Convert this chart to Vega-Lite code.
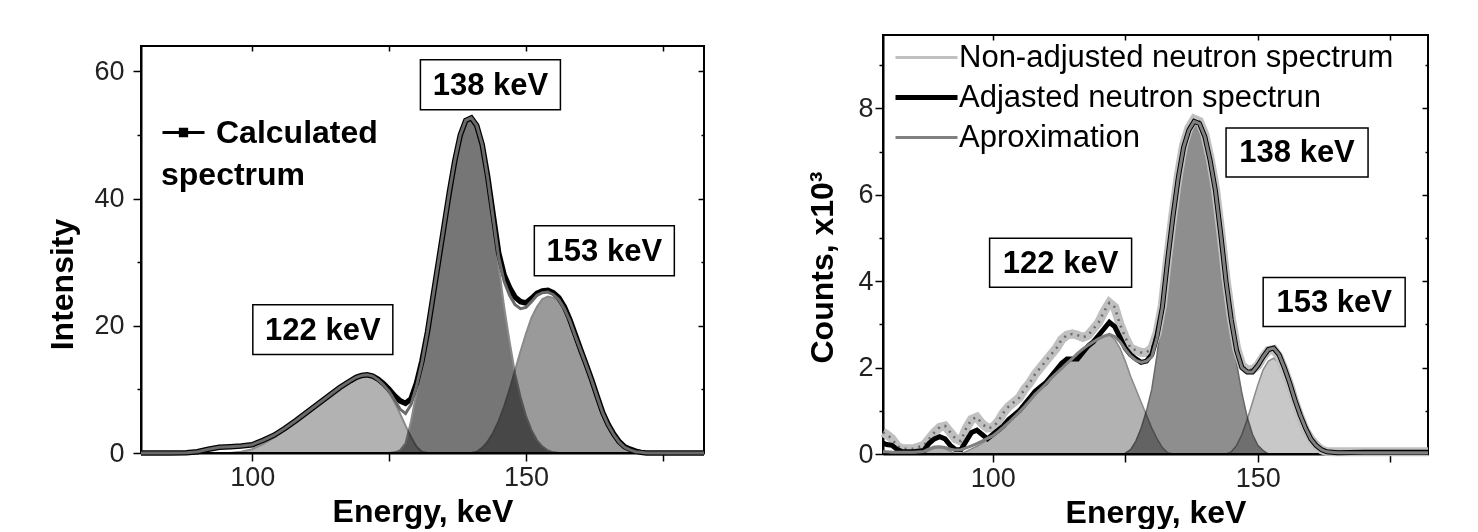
{
  "$schema": "https://vega.github.io/schema/vega-lite/v6.json",
  "background": "white",
  "padding": {"left": 45, "top": 33, "right": 5, "bottom": 0},
  "spacing": 89,
  "resolve": {"scale": {"color": "independent"}, "legend": {"color": "independent"}},
  "config": {
    "view": {"stroke": "black", "strokeWidth": 2},
    "axis": {
      "domainColor": "black", "domainWidth": 2, "tickColor": "black", "tickWidth": 1.5, "grid": false,
      "labelFont": "Liberation Sans", "labelFontSize": 27, "labelColor": "#222",
      "titleFont": "Liberation Sans", "titleFontSize": 32, "titleFontWeight": "bold", "titleColor": "black"
    },
    "legend": {"padding": 0}
  },
  "datasets": {
    "left": [
      {"E":79.7,"calc":0,"fit":0},{"E":85,"calc":0,"fit":0},{"E":88,"calc":0.05,"fit":0.05},{"E":90,"calc":0.2,"fit":0.2},
      {"E":92,"calc":0.6,"fit":0.6},{"E":94,"calc":0.9,"fit":0.9},{"E":96,"calc":1.0,"fit":1.0,"c122":0},
      {"E":98,"calc":1.1,"fit":1.1,"c122":0.2},{"E":100,"calc":1.3,"fit":1.3,"c122":0.6},{"E":102,"calc":2.0,"fit":2.0,"c122":1.4},
      {"E":104,"calc":2.8,"fit":2.8,"c122":2.4},{"E":106,"calc":3.9,"fit":3.9,"c122":3.6},{"E":108,"calc":5.1,"fit":5.1,"c122":4.9},
      {"E":110,"calc":6.4,"fit":6.4,"c122":6.2},{"E":112,"calc":7.7,"fit":7.7,"c122":7.6},{"E":114,"calc":9.0,"fit":9.0,"c122":8.9},
      {"E":116,"calc":10.3,"fit":10.3,"c122":10.2},{"E":118,"calc":11.4,"fit":11.4,"c122":11.3},{"E":119,"calc":11.9,"fit":11.9,"c122":11.8},
      {"E":120,"calc":12.2,"fit":12.2,"c122":12.1},{"E":121,"calc":12.3,"fit":12.3,"c122":12.2},{"E":122,"calc":12.1,"fit":12.1,"c122":12.0},
      {"E":123,"calc":11.6,"fit":11.5,"c122":11.4},{"E":124,"calc":10.9,"fit":10.7,"c122":10.6},
      {"E":125,"calc":10.0,"fit":9.7,"c122":9.5,"c138":0},{"E":126,"calc":9.0,"fit":8.3,"c122":8.0,"c138":0.1},
      {"E":127,"calc":8.2,"fit":6.9,"c122":6.2,"c138":0.4},{"E":128,"calc":7.8,"fit":6.2,"c122":4.3,"c138":1.5},
      {"E":129,"calc":8.5,"fit":7.6,"c122":2.5,"c138":5.0},{"E":130,"calc":11.0,"fit":10.5,"c122":1.0,"c138":9.5},
      {"E":131,"calc":14.5,"fit":14.2,"c122":0.2,"c138":14.0},{"E":132,"calc":19.0,"fit":19.0,"c122":0,"c138":19.0},
      {"E":133,"calc":24.5,"fit":24.5,"c138":24.5},{"E":134,"calc":30.0,"fit":30.0,"c138":30.0},{"E":135,"calc":35.5,"fit":35.5,"c138":35.5},
      {"E":136,"calc":41.0,"fit":41.0,"c138":41.0},{"E":137,"calc":46.0,"fit":46.0,"c138":46.0},{"E":138,"calc":50.0,"fit":50.0,"c138":50.0},
      {"E":139,"calc":52.3,"fit":52.3,"c138":52.3},{"E":140,"calc":52.7,"fit":52.7,"c138":52.7,"c153":0},
      {"E":141,"calc":51.5,"fit":51.5,"c138":51.3,"c153":0.2},{"E":142,"calc":48.5,"fit":48.5,"c138":48.0,"c153":0.8},
      {"E":143,"calc":43.5,"fit":43.3,"c138":42.8,"c153":1.8},{"E":144,"calc":37.5,"fit":37.0,"c138":36.0,"c153":3.2},
      {"E":145,"calc":31.5,"fit":30.8,"c138":29.5,"c153":5.0},{"E":146,"calc":28.0,"fit":27.0,"c138":23.0,"c153":7.3},
      {"E":147,"calc":26.0,"fit":24.8,"c138":17.5,"c153":10.0},{"E":148,"calc":24.5,"fit":23.3,"c138":12.5,"c153":13.0},
      {"E":149,"calc":23.8,"fit":22.7,"c138":8.8,"c153":16.0},{"E":150,"calc":23.6,"fit":22.9,"c138":5.8,"c153":18.8},
      {"E":151,"calc":24.3,"fit":23.8,"c138":3.6,"c153":21.3},{"E":152,"calc":25.1,"fit":24.8,"c138":2.0,"c153":23.0},
      {"E":153,"calc":25.5,"fit":25.2,"c138":1.0,"c153":24.2},{"E":154,"calc":25.6,"fit":25.3,"c138":0.4,"c153":24.6},
      {"E":155,"calc":25.2,"fit":24.9,"c138":0.1,"c153":24.4},{"E":156,"calc":24.4,"fit":24.1,"c138":0,"c153":23.8},
      {"E":157,"calc":23.0,"fit":22.7,"c153":22.5},{"E":158,"calc":21.0,"fit":20.8,"c153":20.6},{"E":159,"calc":18.6,"fit":18.4,"c153":18.3},
      {"E":160,"calc":16.2,"fit":16.1,"c153":16.0},{"E":161,"calc":13.9,"fit":13.8,"c153":13.7},{"E":162,"calc":11.5,"fit":11.4,"c153":11.3},
      {"E":163,"calc":8.9,"fit":8.8,"c153":8.7},{"E":164,"calc":6.4,"fit":6.3,"c153":6.2},{"E":165,"calc":4.5,"fit":4.4,"c153":4.3},
      {"E":166,"calc":3.0,"fit":2.9,"c153":2.8},{"E":167,"calc":1.8,"fit":1.7,"c153":1.6},{"E":168,"calc":1.0,"fit":0.9,"c153":0.8},
      {"E":169,"calc":0.6,"fit":0.5,"c153":0.3},{"E":170,"calc":0.3,"fit":0.2,"c153":0},{"E":171,"calc":0.1,"fit":0.1},
      {"E":172,"calc":0,"fit":0},{"E":182.5,"calc":0,"fit":0}
    ],
    "leftLabels": [
      {"label":"138 keV","E":143.5,"I":57.9},
      {"label":"153 keV","E":164.3,"I":31.8},
      {"label":"122 keV","E":112.9,"I":19.4}
    ],
    "right": [
      {"E":79.3,"nonadj":0.5,"adj":0.25,"approx":0.05},{"E":80,"nonadj":0.45,"adj":0.22,"approx":0.05},
      {"E":81,"nonadj":0.35,"adj":0.2,"approx":0.04},{"E":82,"nonadj":0.18,"adj":0.1,"approx":0.04},
      {"E":83,"nonadj":0.12,"adj":0.05,"approx":0.04},{"E":85,"nonadj":0.12,"adj":0.05,"approx":0.04},
      {"E":87,"nonadj":0.2,"adj":0.08,"approx":0.06,"c90":0},{"E":88,"nonadj":0.35,"adj":0.25,"approx":0.12,"c90":0.08},
      {"E":89,"nonadj":0.5,"adj":0.35,"approx":0.16,"c90":0.13},{"E":90,"nonadj":0.62,"adj":0.4,"approx":0.17,"c90":0.15},
      {"E":91,"nonadj":0.65,"adj":0.35,"approx":0.15,"c90":0.12},{"E":92,"nonadj":0.5,"adj":0.2,"approx":0.11,"c90":0.06},
      {"E":93,"nonadj":0.35,"adj":0.1,"approx":0.09,"c90":0},{"E":94,"nonadj":0.3,"adj":0.1,"approx":0.1,"c122":0},
      {"E":95,"nonadj":0.6,"adj":0.3,"approx":0.14,"c122":0.06},{"E":96,"nonadj":0.8,"adj":0.5,"approx":0.19,"c122":0.12},
      {"E":97,"nonadj":0.85,"adj":0.55,"approx":0.24,"c122":0.18},{"E":98,"nonadj":0.7,"adj":0.45,"approx":0.3,"c122":0.25},
      {"E":99,"nonadj":0.6,"adj":0.35,"approx":0.36,"c122":0.32},{"E":100,"nonadj":0.62,"adj":0.45,"approx":0.42,"c122":0.4},
      {"E":101,"nonadj":0.75,"adj":0.55,"approx":0.52,"c122":0.5},{"E":102,"nonadj":0.95,"adj":0.65,"approx":0.62,"c122":0.6},
      {"E":103,"nonadj":1.1,"adj":0.8,"approx":0.73,"c122":0.72},{"E":104,"nonadj":1.2,"adj":0.9,"approx":0.85,"c122":0.84},
      {"E":105,"nonadj":1.3,"adj":1.0,"approx":0.97,"c122":0.96},{"E":106,"nonadj":1.5,"adj":1.15,"approx":1.1,"c122":1.09},
      {"E":107,"nonadj":1.65,"adj":1.3,"approx":1.24,"c122":1.23},{"E":108,"nonadj":1.85,"adj":1.45,"approx":1.38,"c122":1.37},
      {"E":109,"nonadj":2.0,"adj":1.55,"approx":1.5,"c122":1.49},{"E":110,"nonadj":2.15,"adj":1.65,"approx":1.62,"c122":1.61},
      {"E":111,"nonadj":2.3,"adj":1.8,"approx":1.75,"c122":1.74},{"E":112,"nonadj":2.45,"adj":1.95,"approx":1.87,"c122":1.86},
      {"E":113,"nonadj":2.65,"adj":2.1,"approx":1.98,"c122":1.97},{"E":114,"nonadj":2.75,"adj":2.2,"approx":2.1,"c122":2.09},
      {"E":115,"nonadj":2.78,"adj":2.2,"approx":2.21,"c122":2.2},{"E":116,"nonadj":2.75,"adj":2.2,"approx":2.33,"c122":2.32},
      {"E":117,"nonadj":2.7,"adj":2.35,"approx":2.43,"c122":2.42},{"E":118,"nonadj":2.75,"adj":2.5,"approx":2.52,"c122":2.51},
      {"E":119,"nonadj":2.9,"adj":2.6,"approx":2.6,"c122":2.59},{"E":120,"nonadj":3.05,"adj":2.75,"approx":2.67,"c122":2.66},
      {"E":121,"nonadj":3.3,"adj":2.9,"approx":2.73,"c122":2.72},{"E":122,"nonadj":3.5,"adj":3.05,"approx":2.77,"c122":2.75},
      {"E":123,"nonadj":3.4,"adj":2.95,"approx":2.72,"c122":2.65},{"E":124,"nonadj":3.0,"adj":2.7,"approx":2.6,"c122":2.45},
      {"E":125,"nonadj":2.7,"adj":2.45,"approx":2.42,"c122":2.15,"c138":0.02},{"E":126,"nonadj":2.45,"adj":2.3,"approx":2.27,"c122":1.8,"c138":0.1},
      {"E":127,"nonadj":2.4,"adj":2.2,"approx":2.17,"c122":1.5,"c138":0.3},{"E":128,"nonadj":2.35,"adj":2.12,"approx":2.12,"c122":1.2,"c138":0.6},
      {"E":129,"nonadj":2.35,"adj":2.15,"approx":2.15,"c122":0.9,"c138":1.0},{"E":130,"nonadj":2.45,"adj":2.3,"approx":2.25,"c122":0.6,"c138":1.5},
      {"E":131,"nonadj":2.8,"adj":2.75,"approx":2.7,"c122":0.35,"c138":2.3},{"E":132,"nonadj":3.45,"adj":3.4,"approx":3.4,"c122":0.15,"c138":3.3},
      {"E":133,"nonadj":4.55,"adj":4.5,"approx":4.5,"c122":0.03,"c138":4.45},{"E":134,"nonadj":5.55,"adj":5.5,"approx":5.5,"c122":0,"c138":5.5},
      {"E":135,"nonadj":6.45,"adj":6.4,"approx":6.4,"c138":6.4},{"E":136,"nonadj":7.15,"adj":7.1,"approx":7.1,"c138":7.1},
      {"E":137,"nonadj":7.55,"adj":7.5,"approx":7.5,"c138":7.5},{"E":138,"nonadj":7.75,"adj":7.7,"approx":7.7,"c138":7.7},
      {"E":139,"nonadj":7.7,"adj":7.65,"approx":7.65,"c138":7.65},{"E":140,"nonadj":7.4,"adj":7.35,"approx":7.35,"c138":7.35},
      {"E":141,"nonadj":6.85,"adj":6.8,"approx":6.8,"c138":6.8},{"E":142,"nonadj":6.15,"adj":6.1,"approx":6.1,"c138":6.1},
      {"E":143,"nonadj":5.15,"adj":5.1,"approx":5.1,"c138":5.1},{"E":144,"nonadj":4.05,"adj":4.0,"approx":4.0,"c138":4.0,"c153":0},
      {"E":145,"nonadj":3.15,"adj":3.1,"approx":3.1,"c138":3.0,"c153":0.05},{"E":146,"nonadj":2.45,"adj":2.4,"approx":2.4,"c138":2.1,"c153":0.2},
      {"E":147,"nonadj":2.05,"adj":2.0,"approx":2.0,"c138":1.4,"c153":0.45},{"E":148,"nonadj":1.95,"adj":1.9,"approx":1.9,"c138":0.85,"c153":0.8},
      {"E":149,"nonadj":1.95,"adj":1.9,"approx":1.9,"c138":0.45,"c153":1.2},{"E":150,"nonadj":2.05,"adj":2.05,"approx":2.05,"c138":0.2,"c153":1.6},
      {"E":151,"nonadj":2.25,"adj":2.25,"approx":2.25,"c138":0.08,"c153":1.95},{"E":152,"nonadj":2.4,"adj":2.42,"approx":2.42,"c138":0,"c153":2.15},
      {"E":153,"nonadj":2.42,"adj":2.45,"approx":2.45,"c153":2.22},{"E":154,"nonadj":2.25,"adj":2.3,"approx":2.3,"c153":2.1},
      {"E":155,"nonadj":1.95,"adj":2.0,"approx":2.0,"c153":1.85},{"E":156,"nonadj":1.6,"adj":1.65,"approx":1.65,"c153":1.5},
      {"E":157,"nonadj":1.2,"adj":1.25,"approx":1.25,"c153":1.15},{"E":158,"nonadj":0.85,"adj":0.9,"approx":0.9,"c153":0.8},
      {"E":159,"nonadj":0.55,"adj":0.6,"approx":0.6,"c153":0.5},{"E":160,"nonadj":0.35,"adj":0.35,"approx":0.35,"c153":0.3},
      {"E":161,"nonadj":0.2,"adj":0.2,"approx":0.2,"c153":0.15},{"E":162,"nonadj":0.1,"adj":0.1,"approx":0.1,"c153":0.06},
      {"E":163,"nonadj":0.06,"adj":0.05,"approx":0.05,"c153":0},{"E":165,"nonadj":0.05,"adj":0.03,"approx":0.03},
      {"E":170,"nonadj":0.05,"adj":0.04,"approx":0.03},{"E":175,"nonadj":0.05,"adj":0.04,"approx":0.03},
      {"E":182.1,"nonadj":0.05,"adj":0.04,"approx":0.03}
    ],
    "rightLabels": [
      {"label":"138 keV","E":157.4,"C":6.98},
      {"label":"122 keV","E":112.8,"C":4.43},
      {"label":"153 keV","E":164.4,"C":3.52}
    ]
  },
  "hconcat": [
    {
      "spacing": 8,
      "vconcat": [
        {
          "width": 563,
          "height": 1,
          "view": {"stroke": null},
          "data": {"values": []},
          "mark": {"type": "point"},
          "encoding": {}
        },
        {
          "width": 563,
          "height": 407,
          "data": {"name": "left"},
          "resolve": {"axis": {"x": "independent", "y": "independent"}},
          "layer": [
            {
              "mark": {"type": "area", "color": "#b2b2b2", "stroke": "#8a8a8a", "strokeWidth": 2, "blend": "multiply"},
              "encoding": {
                "x": {"field": "E", "type": "quantitative", "scale": {"domain": [79.7, 182.5], "nice": false, "zero": false},
                  "axis": {"orient": "bottom", "values": [100, 125, 150, 175], "labelExpr": "datum.value % 50 === 0 ? datum.label : ''",
                    "title": "Energy, keV", "tickSize": 8, "labelPadding": 3, "titlePadding": 6}},
                "y": {"field": "c122", "type": "quantitative", "scale": {"domain": [0, 64], "nice": false},
                  "axis": {"orient": "left", "values": [0, 10, 20, 30, 40, 50, 60], "labelExpr": "datum.value % 20 === 0 ? datum.label : ''",
                    "tickSize": {"condition": {"test": "datum.value % 20 === 0", "value": 8}, "value": 4},
                    "labelPadding": 9, "title": "Intensity", "titlePadding": 14, "titleY": 238}}
              }
            },
            {
              "mark": {"type": "area", "color": "#767676", "stroke": "#8a8a8a", "strokeWidth": 2, "blend": "multiply"},
              "encoding": {
                "x": {"field": "E", "type": "quantitative", "axis": null},
                "y": {"field": "c138", "type": "quantitative", "axis": null}
              }
            },
            {
              "mark": {"type": "area", "color": "#9a9a9a", "stroke": "#8a8a8a", "strokeWidth": 2, "blend": "multiply"},
              "encoding": {
                "x": {"field": "E", "type": "quantitative", "axis": null},
                "y": {"field": "c153", "type": "quantitative", "axis": null}
              }
            },
            {
              "mark": {"type": "line", "strokeWidth": 5.5},
              "encoding": {
                "x": {"field": "E", "type": "quantitative", "axis": null},
                "y": {"field": "calc", "type": "quantitative", "axis": null},
                "color": {"datum": "Calculated", "scale": {"domain": ["Calculated"], "range": ["black"]},
                  "legend": {"orient": "none", "legendX": 20, "legendY": 75, "title": "spectrum", "titleOrient": "bottom",
                    "titleAnchor": "start", "titleFont": "Liberation Sans", "titleFontSize": 32, "titleFontWeight": "bold",
                    "titleColor": "black", "titlePadding": 11,
                    "labelFont": "Liberation Sans", "labelFontSize": 32, "labelFontWeight": "bold", "labelColor": "black",
                    "labelOffset": 10, "labelLimit": 400,
                    "symbolType": "M-1,0H1M-0.15,-0.15H0.15V0.15H-0.15Z", "symbolSize": 1764, "symbolStrokeWidth": 3,
                    "symbolStrokeColor": "black", "symbolFillColor": "black"}}
              }
            },
            {
              "mark": {"type": "line", "color": "#6a6a6a", "strokeWidth": 3},
              "encoding": {
                "x": {"field": "E", "type": "quantitative",
                  "axis": {"orient": "top", "values": [100, 125, 150, 175], "labels": false, "title": null, "domain": false, "tickSize": -5}},
                "y": {"field": "fit", "type": "quantitative",
                  "axis": {"orient": "right", "values": [0, 10, 20, 30, 40, 50, 60], "labels": false, "title": null, "domain": false,
                    "tickSize": {"condition": {"test": "datum.value % 20 === 0", "value": -6}, "value": -3}}}
              }
            },
            {
              "data": {"name": "leftLabels"},
              "mark": {"type": "point", "shape": "M-1,-0.357H1V0.357H-1Z", "size": 19600, "filled": true, "fill": "white",
                "stroke": "black", "strokeWidth": 1.5, "opacity": 1},
              "encoding": {
                "x": {"field": "E", "type": "quantitative", "axis": null},
                "y": {"field": "I", "type": "quantitative", "axis": null}
              }
            },
            {
              "data": {"name": "leftLabels"},
              "mark": {"type": "text", "font": "Liberation Sans", "fontSize": 31, "fontWeight": "bold", "color": "black", "dy": 1},
              "encoding": {
                "x": {"field": "E", "type": "quantitative", "axis": null},
                "y": {"field": "I", "type": "quantitative", "axis": null},
                "text": {"field": "label"}
              }
            }
          ]
        }
      ]
    },
    {
      "width": 545,
      "height": 419,
      "data": {"name": "right"},
      "resolve": {"axis": {"x": "independent", "y": "independent"}},
      "layer": [
        {
          "mark": {"type": "area", "color": "#b2b2b2", "stroke": "#8a8a8a", "strokeWidth": 1.5, "blend": "multiply"},
          "encoding": {
            "x": {"field": "E", "type": "quantitative", "scale": {"domain": [79.3, 182.1], "nice": false, "zero": false},
              "axis": {"orient": "bottom", "values": [100, 125, 150, 175], "labelExpr": "datum.value % 50 === 0 ? datum.label : ''",
                "title": "Energy, keV", "tickSize": 8, "labelPadding": 3, "titlePadding": 6}},
            "y": {"field": "c90", "type": "quantitative", "scale": {"domain": [0, 9.7], "nice": false},
              "axis": {"orient": "left", "values": [0, 1, 2, 3, 4, 5, 6, 7, 8, 9], "labelExpr": "datum.value % 2 === 0 ? datum.label : ''",
                "tickSize": {"condition": {"test": "datum.value % 2 === 0", "value": 8}, "value": 4},
                "labelPadding": 2, "title": "Counts, x10³", "titlePadding": 18, "titleY": 232}}
          }
        },
        {
          "mark": {"type": "area", "color": "#b2b2b2", "stroke": "#8a8a8a", "strokeWidth": 1.5, "blend": "multiply"},
          "encoding": {
            "x": {"field": "E", "type": "quantitative", "axis": null},
            "y": {"field": "c122", "type": "quantitative", "axis": null}
          }
        },
        {
          "mark": {"type": "area", "color": "#8e8e8e", "stroke": "#6a6a6a", "strokeWidth": 1.5, "blend": "multiply"},
          "encoding": {
            "x": {"field": "E", "type": "quantitative", "axis": null},
            "y": {"field": "c138", "type": "quantitative", "axis": null}
          }
        },
        {
          "mark": {"type": "area", "color": "#c8c8c8", "stroke": "#8a8a8a", "strokeWidth": 1.5, "blend": "multiply"},
          "encoding": {
            "x": {"field": "E", "type": "quantitative", "axis": null},
            "y": {"field": "c153", "type": "quantitative", "axis": null}
          }
        },
        {
          "mark": {"type": "line", "strokeWidth": 9},
          "encoding": {
            "x": {"field": "E", "type": "quantitative", "axis": null},
            "y": {"field": "nonadj", "type": "quantitative", "axis": null},
            "color": {"datum": "Non-adjusted neutron spectrum",
              "scale": {"domain": ["Non-adjusted neutron spectrum", "Adjasted neutron spectrun", "Aproximation"],
                "range": ["#c0c0c0", "black", "#808080"]},
              "legend": {"orient": "none", "legendX": 28, "legendY": 7, "title": null,
                "labelFont": "Liberation Sans", "labelFontSize": 31, "labelColor": "black", "labelOffset": 17, "labelLimit": 700,
                "symbolType": "stroke", "symbolSize": 3844, "symbolStrokeWidth": 3, "rowPadding": 8,
                "encode": {"symbols": {"update": {"strokeWidth": {"signal": "datum.value === 'Adjasted neutron spectrun' ? 5 : 3"}}}}}}
          }
        },
        {
          "mark": {"type": "line", "stroke": "#6a6a6a", "strokeWidth": 2.5, "strokeDash": [2, 5]},
          "encoding": {
            "x": {"field": "E", "type": "quantitative", "axis": null},
            "y": {"field": "nonadj", "type": "quantitative", "axis": null}
          }
        },
        {
          "mark": {"type": "line", "strokeWidth": 5},
          "encoding": {
            "x": {"field": "E", "type": "quantitative", "axis": null},
            "y": {"field": "adj", "type": "quantitative", "axis": null},
            "color": {"datum": "Adjasted neutron spectrun"}
          }
        },
        {
          "mark": {"type": "line", "strokeWidth": 3},
          "encoding": {
            "x": {"field": "E", "type": "quantitative",
              "axis": {"orient": "top", "values": [100, 125, 150, 175], "labels": false, "title": null, "domain": false, "tickSize": -5}},
            "y": {"field": "approx", "type": "quantitative",
              "axis": {"orient": "right", "values": [0, 1, 2, 3, 4, 5, 6, 7, 8, 9], "labels": false, "title": null, "domain": false,
                "tickSize": {"condition": {"test": "datum.value % 2 === 0", "value": -6}, "value": -3}}},
            "color": {"datum": "Aproximation"}
          }
        },
        {
          "data": {"name": "rightLabels"},
          "mark": {"type": "point", "shape": "M-1,-0.345H1V0.345H-1Z", "size": 20164, "filled": true, "fill": "white",
            "stroke": "black", "strokeWidth": 1.5, "opacity": 1},
          "encoding": {
            "x": {"field": "E", "type": "quantitative", "axis": null},
            "y": {"field": "C", "type": "quantitative", "axis": null}
          }
        },
        {
          "data": {"name": "rightLabels"},
          "mark": {"type": "text", "font": "Liberation Sans", "fontSize": 31, "fontWeight": "bold", "color": "black", "dy": 1},
          "encoding": {
            "x": {"field": "E", "type": "quantitative", "axis": null},
            "y": {"field": "C", "type": "quantitative", "axis": null},
            "text": {"field": "label"}
          }
        }
      ]
    }
  ]
}
